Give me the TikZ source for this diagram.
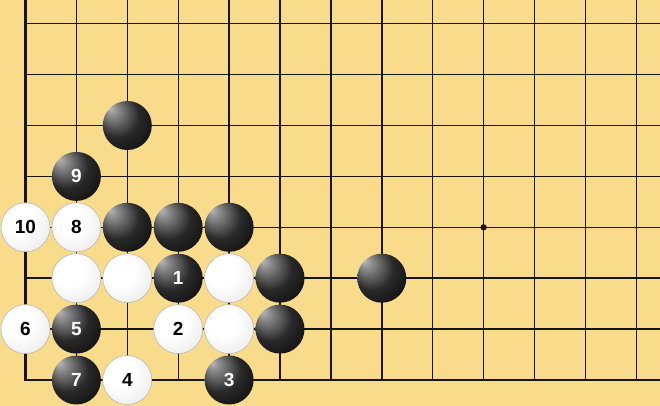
\documentclass[tikz,border=0pt]{standalone}
\usepackage{fontspec}
\setsansfont{Liberation Sans}
\definecolor{board}{RGB}{249,219,140}
\definecolor{gridc}{RGB}{25,20,10}
\pgfdeclareradialshading{blackstone}{\pgfpoint{-18bp}{18bp}}{color(0bp)=(black!28); color(6bp)=(black!45); color(22bp)=(black!84); color(38bp)=(black!95); color(50bp)=(black)}
\pgfdeclareradialshading{whitestone}{\pgfpoint{-12bp}{12bp}}{color(0bp)=(white); color(16bp)=(white); color(32bp)=(black!7); color(44bp)=(black!20); color(50bp)=(black!36)}
\tikzset{
  stone/.style={circle, minimum size=49pt, inner sep=0pt, shade, font=\sffamily\bfseries\fontsize{19}{19}\selectfont},
  bstone/.style={stone, shading=blackstone, text=white},
  wstone/.style={stone, shading=whitestone, text=black, draw=black!30, line width=0.5pt},
  gline/.style={draw=gridc, line width=1.4pt},
  eline/.style={draw=gridc, line width=2.2pt}
}
\begin{document}
\begin{tikzpicture}[x=1pt,y=1pt]
\useasboundingbox (0,0) rectangle (660,406);
\fill[board] (0,0) rectangle (660,406);
\begin{scope}[shift={(25.5,26)}, x=50.9pt, y=50.9pt]
  \foreach \i in {1,...,12} \draw[gline] (\i,0) -- (\i,7.47);
  \foreach \j in {1,...,7} \draw[gline] (0,\j) -- (12.47,\j);
  \draw[eline] (0,7.47) -- (0,0) -- (12.47,0);
  \fill[gridc] (9,3) circle (3.2pt);
  % black stones
  \node[bstone] (b1) at (2,5) {};
  \node[bstone] (b9) at (1,4) {9};
  \node[bstone] (b2) at (2,3) {};
  \node[bstone] (b3) at (3,3) {};
  \node[bstone] (b4) at (4,3) {};
  \node[bstone] (bm1) at (3,2) {1};
  \node[bstone] (b5) at (5,2) {};
  \node[bstone] (b6) at (7,2) {};
  \node[bstone] (bm5) at (1,1) {5};
  \node[bstone] (b7) at (5,1) {};
  \node[bstone] (bm7) at (1,0) {7};
  \node[bstone] (bm3) at (4,0) {3};
  % white stones
  \node[wstone] (w10) at (0,3) {10};
  \node[wstone] (w8) at (1,3) {8};
  \node[wstone] (w1) at (1,2) {};
  \node[wstone] (w2) at (2,2) {};
  \node[wstone] (w3) at (4,2) {};
  \node[wstone] (w6) at (0,1) {6};
  \node[wstone] (wm2) at (3,1) {2};
  \node[wstone] (w4) at (4,1) {};
  \node[wstone] (wm4) at (2,0) {4};
\end{scope}
\end{tikzpicture}
\end{document}
